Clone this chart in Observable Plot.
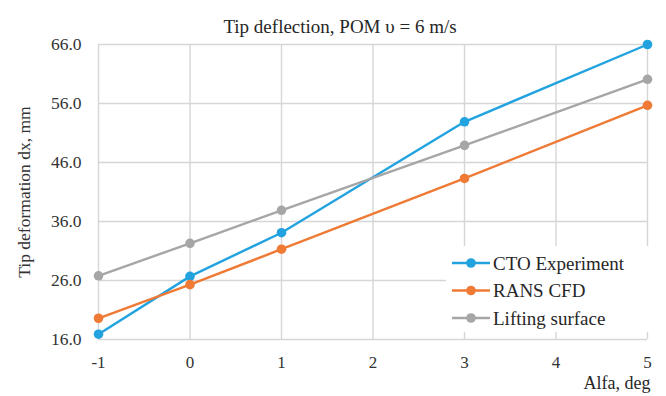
<!DOCTYPE html>
<html>
<head>
<meta charset="utf-8">
<script src="https://cdn.jsdelivr.net/npm/d3@7"></script>
<script src="https://cdn.jsdelivr.net/npm/@observablehq/plot@0.6"></script>
<style>
  html, body { margin: 0; padding: 0; background: #fff; }
  #chart { position: relative; width: 666px; height: 396px; }
  #legend { position: absolute; left: 446px; top: 246px; }
</style>
</head>
<body>
<div id="chart"></div>
<script>
// Angle of attack, degrees
const alfa = [-1, 0, 1, 3, 5];
// Tip deformation dx, mm
const ctoExperiment = [16.9, 26.7, 34.1, 52.9, 66.0];
const ransCfd = [19.6, 25.3, 31.3, 43.3, 55.7];
const liftingSurface = [26.8, 32.3, 37.9, 48.9, 60.1];

const seriesNames = ["CTO Experiment", "RANS CFD", "Lifting surface"];
const seriesValues = [ctoExperiment, ransCfd, liftingSurface];
const seriesColors = ["#22a3e0", "#ef7a35", "#a6a6a6"];

const xTicks = [-1, 0, 1, 2, 3, 4, 5];
const yTicks = [16, 26, 36, 46, 56, 66];

const rows = seriesNames.flatMap((name, i) =>
  alfa.map((a, j) => ({series: name, alfa: a, dx: seriesValues[i][j]}))
);

const chart = Plot.plot({
  width: 666,
  height: 396,
  marginLeft: 98,
  marginRight: 19,
  marginTop: 44,
  marginBottom: 57,
  style: {fontFamily: "Liberation Serif", fontSize: "17px", color: "#333", background: "#fff"},
  x: {domain: [-1, 5]},
  y: {domain: [16, 66]},
  color: {domain: seriesNames, range: seriesColors},
  marks: [
    Plot.gridX(xTicks, {stroke: "#d6d6d6", strokeOpacity: 1, strokeWidth: 1.4}),
    Plot.gridY(yTicks, {stroke: "#d6d6d6", strokeOpacity: 1, strokeWidth: 1.4}),
    Plot.axisX(xTicks, {tickSize: 0, tickPadding: 16, tickFormat: d => String(d), label: null, fontSize: "17px"}),
    Plot.axisY(yTicks, {tickSize: 0, tickPadding: 17, tickFormat: d => d.toFixed(1),
      label: "Tip deformation dx, mm", labelAnchor: "center", labelArrow: "none", labelOffset: 81, fontSize: "17.5px"}),
    Plot.line(rows, {x: "alfa", y: "dx", z: "series", stroke: "series", strokeWidth: 2.4}),
    Plot.dot(rows, {x: "alfa", y: "dx", fill: "series", r: 4.8}),
    Plot.text(["Tip deflection, POM \u03c5 = 6 m/s"], {text: d => d, frameAnchor: "top", dx: -33, dy: -25, fontSize: 19, fill: "#262626"}),
    Plot.text(["Alfa, deg"], {text: d => d, frameAnchor: "bottom-right", textAnchor: "end", dx: 3, dy: 49, fontSize: 18, fill: "#262626"})
  ]
});
document.getElementById("chart").appendChild(chart);

// Line-and-marker legend in the lower right corner
const legend = d3.select("#chart").append("svg")
  .attr("id", "legend")
  .attr("width", 208).attr("height", 86)
  .style("font-family", "Liberation Serif");
legend.append("rect").attr("width", 208).attr("height", 86).attr("fill", "#fff");
const item = legend.selectAll("g.item")
  .data(seriesNames)
  .join("g")
  .attr("class", "item")
  .attr("transform", (d, i) => `translate(6,${17 + i * 27.5})`);
item.append("line")
  .attr("x1", 0).attr("x2", 38)
  .attr("stroke", (d, i) => seriesColors[i]).attr("stroke-width", 2.4);
item.append("circle")
  .attr("cx", 19).attr("r", 4.8)
  .attr("fill", (d, i) => seriesColors[i]);
item.append("text")
  .attr("x", 41).attr("dy", "0.35em")
  .attr("font-size", 19).attr("fill", "#262626")
  .text(d => d);
</script>
</body>
</html>
